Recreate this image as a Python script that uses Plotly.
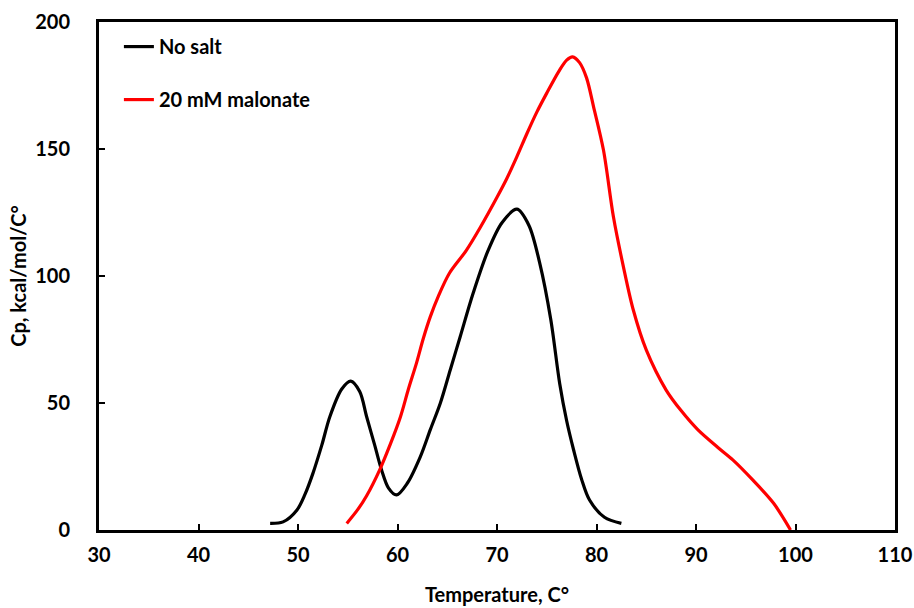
import plotly.graph_objects as go

# No salt (black)
ns_t = [47.2, 48.5, 49.9, 50.7, 51.5, 52.4, 53.2, 54.4, 55.3, 56.2, 56.9, 57.7, 58.4, 59.1, 59.9, 61.0, 62.3, 63.3, 64.3, 65.3, 66.3, 67.6, 69.1, 70.5, 72.0, 73.2, 74.3, 75.4, 76.3, 77.0, 77.7, 78.5, 79.3, 80.8, 82.5]
ns_cp = [2.6, 3.2, 7.9, 14.0, 22.3, 33.5, 44.6, 55.5, 58.6, 54.5, 44.6, 33.5, 23.6, 16.5, 13.8, 18.5, 28.9, 39.5, 49.9, 63.0, 76.1, 93.2, 110.0, 121.0, 126.3, 120.0, 105.0, 83.0, 57.7, 43.0, 31.5, 20.0, 11.8, 5.0, 2.6]

# 20 mM malonate (red)
mal_t = [54.9, 56.0, 56.9, 58.2, 59.3, 60.3, 61.1, 61.9, 62.6, 63.3, 64.1, 65.2, 66.9, 68.3, 70.0, 71.0, 72.0, 73.0, 74.0, 75.0, 76.2, 77.0, 77.6, 78.3, 79.0, 79.7, 80.7, 81.7, 82.7, 83.7, 85.0, 87.0, 88.5, 90.2, 92.2, 93.7, 95.7, 97.8, 99.5]
mal_cp = [2.6, 8.0, 13.5, 23.6, 34.0, 44.6, 55.5, 65.6, 75.5, 84.0, 92.0, 101.0, 110.0, 119.0, 131.0, 138.5, 147.0, 156.0, 164.5, 172.0, 180.5, 185.0, 186.3, 184.0, 178.0, 166.7, 149.6, 123.3, 103.7, 86.6, 70.9, 55.1, 47.0, 39.4, 32.5, 27.6, 19.7, 10.5, 0.0]

x_ticks = [30, 40, 50, 60, 70, 80, 90, 100, 110]
y_ticks = [0, 50, 100, 150, 200]

FONT = "Lato, 'Open Sans', sans-serif"

fig = go.Figure()
fig.add_trace(go.Scatter(x=ns_t, y=ns_cp, mode="lines", name="<b>No salt</b>",
                         line=dict(color="black", width=3.2, shape="spline", smoothing=0.9),
                         legendgroup="a"))
fig.add_trace(go.Scatter(x=mal_t, y=mal_cp, mode="lines", name="<b>20 mM malonate</b>",
                         line=dict(color="#ff0000", width=3.2, shape="spline", smoothing=0.9),
                         legendgroup="b"))

axis_common = dict(showline=True, linecolor="black", linewidth=3, mirror=True,
                   ticks="inside", ticklen=6, tickwidth=2, tickcolor="black",
                   showgrid=False, zeroline=False, automargin=False,
                   tickfont=dict(family=FONT, size=20, color="black", weight="bold"))

fig.update_xaxes(range=[30, 110], tickvals=x_ticks, ticklabelstandoff=5,
                 title=dict(text="<b>Temperature, C°</b>", font=dict(family=FONT, size=20, color="black"), standoff=23),
                 **axis_common)
fig.update_yaxes(range=[0, 200], tickvals=y_ticks, ticklabelstandoff=22,
                 title=dict(text="<b>Cp, kcal/mol/C°</b>", font=dict(family=FONT, size=20, color="black"), standoff=4),
                 **axis_common)

fig.update_layout(
    width=914, height=608,
    margin=dict(l=99, r=19, t=22, b=78),
    paper_bgcolor="white", plot_bgcolor="white",
    showlegend=True,
    legend=dict(x=0.025, y=0.99, xanchor="left", yanchor="top",
                bgcolor="rgba(0,0,0,0)", tracegroupgap=24,
                font=dict(family=FONT, size=20, color="black")),
)

fig.write_html("out.html")
